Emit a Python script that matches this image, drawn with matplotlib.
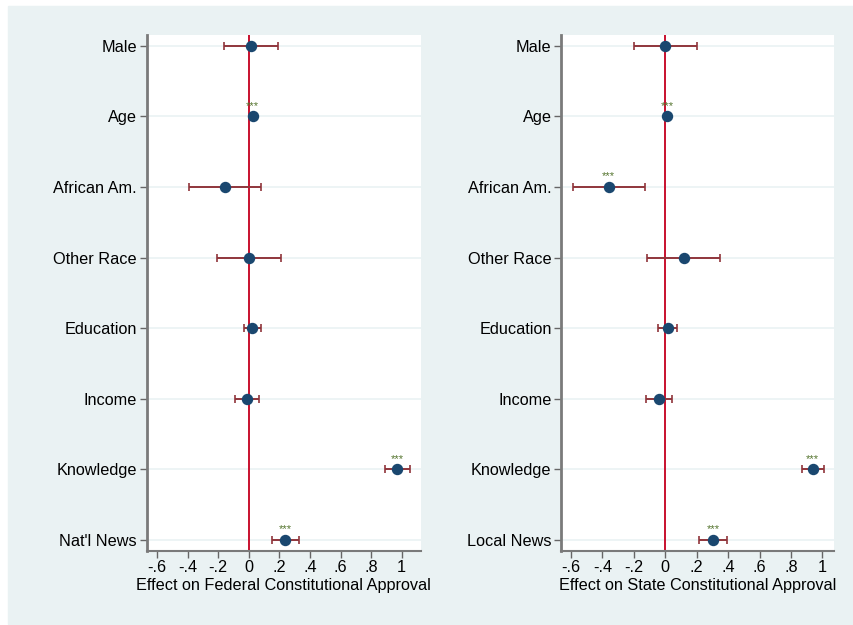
import numpy as np
import matplotlib
matplotlib.use('Agg')
from matplotlib import pyplot as plt
from matplotlib.patches import Rectangle

plt.rcParams['font.family'] = ['Liberation Sans', 'DejaVu Sans']

# coefficient estimates and 95% intervals
fed_labels = ['Male', 'Age', 'African Am.', 'Other Race', 'Education',
              'Income', 'Knowledge', "Nat'l News"]
fed_coef = [0.015, 0.026, -0.153, 0.0, 0.024, -0.009, 0.971, 0.237]
fed_lo = [-0.161, 0.020, -0.388, -0.207, -0.031, -0.087, 0.891, 0.150]
fed_hi = [0.190, 0.032, 0.080, 0.209, 0.078, 0.067, 1.054, 0.331]
fed_sig = ['', '***', '', '', '', '', '***', '***']

state_labels = ['Male', 'Age', 'African Am.', 'Other Race', 'Education',
                'Income', 'Knowledge', 'Local News']
state_coef = [0.0, 0.013, -0.361, 0.117, 0.015, -0.038, 0.939, 0.306]
state_lo = [-0.201, 0.007, -0.588, -0.117, -0.048, -0.123, 0.869, 0.217]
state_hi = [0.204, 0.019, -0.131, 0.350, 0.076, 0.045, 1.011, 0.395]
state_sig = ['', '***', '***', '', '', '', '***', '***']

xticks = [-0.6, -0.4, -0.2, 0, 0.2, 0.4, 0.6, 0.8, 1]
xticklabels = ['-.6', '-.4', '-.2', '0', '.2', '.4', '.6', '.8', '1']

BG = '#EAF2F3'
NAVY = '#1A476F'
MAROON = '#90353B'
RED = '#C8102E'
GREEN = '#55752F'
FS = 11.7


def coef_panel(ax, labels, coef, lo, hi, sig, xlabel, xlim):
    y = np.arange(1, len(labels) + 1)
    coef = np.array(coef)
    err = [coef - np.array(lo), np.array(hi) - coef]
    for yy in y:
        ax.axhline(yy, color=BG, lw=1.2, zorder=0)
    ax.axvline(0, color=RED, lw=1.4, zorder=1)
    ax.errorbar(coef, y, xerr=err, fmt='none', ecolor=MAROON, elinewidth=1.4,
                capsize=3, capthick=1.2, zorder=2)
    ax.plot(coef, y, 'o', color=NAVY, ms=7.2, zorder=3)
    for c, yy, s in zip(coef, y, sig):
        if s:
            ax.text(c, yy - 0.15, s, color=GREEN, fontsize=8, ha='center',
                    va='center', zorder=4)
    ax.set_ylim(8.15, 0.85)
    ax.set_xlim(*xlim)
    ax.set_yticks(y)
    ax.set_yticklabels(labels, fontsize=FS)
    ax.set_xticks(xticks)
    ax.set_xticklabels(xticklabels, fontsize=FS)
    ax.set_xlabel(xlabel, fontsize=FS, labelpad=2)
    ax.tick_params(axis='both', length=5, width=1, color='#666666', pad=2)
    for side in ['top', 'right']:
        ax.spines[side].set_visible(False)
    ax.spines['left'].set_color('#7a7a7a')
    ax.spines['left'].set_linewidth(2)
    ax.spines['bottom'].set_color('#7a7a7a')
    ax.spines['bottom'].set_linewidth(1.5)
    ax.set_facecolor('white')


W, H = 854, 625
fig = plt.figure(figsize=(W / 100, H / 100), dpi=100, facecolor='white')
fig.patches.append(Rectangle((8 / W, 1 / H), 845 / W, 618 / H,
                             transform=fig.transFigure, color=BG, zorder=-5))

ax1 = fig.add_axes([146.7 / W, (H - 550.7) / H, 274.3 / W, 515.7 / H])
ax2 = fig.add_axes([561.3 / W, (H - 550.7) / H, 273.0 / W, 515.7 / H])

coef_panel(ax1, fed_labels, fed_coef, fed_lo, fed_hi, fed_sig,
           'Effect on Federal Constitutional Approval', (-0.667, 1.126))
coef_panel(ax2, state_labels, state_coef, state_lo, state_hi, state_sig,
           'Effect on State Constitutional Approval', (-0.662, 1.076))

fig.savefig('out.png', dpi=100, facecolor=fig.get_facecolor())
